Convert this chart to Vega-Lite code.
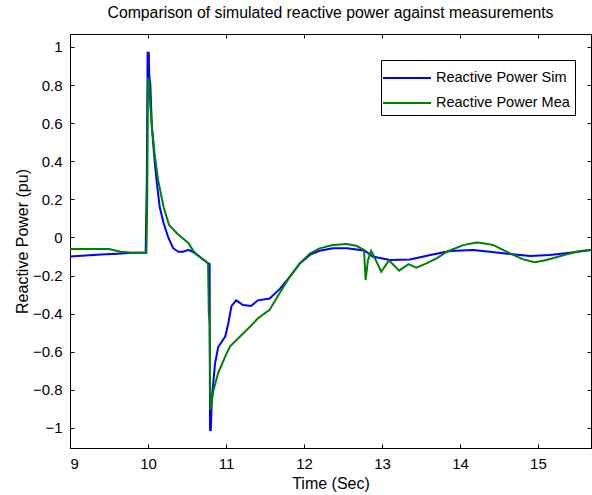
{
  "$schema": "https://vega.github.io/schema/vega-lite/v6.json",
  "width": 521,
  "height": 414,
  "autosize": "none",
  "padding": {"left": 70, "top": 34, "right": 1, "bottom": 47},
  "background": "white",
  "title": {"text": "Comparison of simulated reactive power against measurements", "font": "Liberation Sans", "fontSize": 15.8, "fontWeight": "normal", "color": "#000", "anchor": "middle", "offset": 12},
  "config": {
    "view": {"stroke": "#000", "strokeWidth": 1},
    "axis": {"labelFont": "Liberation Sans", "titleFont": "Liberation Sans", "labelFontSize": 15, "titleFontSize": 16, "titleFontWeight": "normal", "labelColor": "#000", "titleColor": "#000", "domainColor": "#000", "tickColor": "#000", "grid": false},
    "legend": {"labelFont": "Liberation Sans", "labelFontSize": 14.5, "labelColor": "#000"}
  },
  "data": {"values": [
    {"t": 9.0, "v": -0.10, "s": "Reactive Power Sim"},
    {"t": 9.2, "v": -0.095, "s": "Reactive Power Sim"},
    {"t": 9.4, "v": -0.09, "s": "Reactive Power Sim"},
    {"t": 9.6, "v": -0.085, "s": "Reactive Power Sim"},
    {"t": 9.8, "v": -0.08, "s": "Reactive Power Sim"},
    {"t": 9.97, "v": -0.08, "s": "Reactive Power Sim"},
    {"t": 9.985, "v": 0.3, "s": "Reactive Power Sim"},
    {"t": 9.995, "v": 0.97, "s": "Reactive Power Sim"},
    {"t": 10.01, "v": 0.97, "s": "Reactive Power Sim"},
    {"t": 10.015, "v": 0.86, "s": "Reactive Power Sim"},
    {"t": 10.03, "v": 0.8, "s": "Reactive Power Sim"},
    {"t": 10.05, "v": 0.58, "s": "Reactive Power Sim"},
    {"t": 10.07, "v": 0.475, "s": "Reactive Power Sim"},
    {"t": 10.09, "v": 0.38, "s": "Reactive Power Sim"},
    {"t": 10.11, "v": 0.30, "s": "Reactive Power Sim"},
    {"t": 10.15, "v": 0.16, "s": "Reactive Power Sim"},
    {"t": 10.2, "v": 0.076, "s": "Reactive Power Sim"},
    {"t": 10.26, "v": 0.0, "s": "Reactive Power Sim"},
    {"t": 10.32, "v": -0.055, "s": "Reactive Power Sim"},
    {"t": 10.39, "v": -0.075, "s": "Reactive Power Sim"},
    {"t": 10.45, "v": -0.075, "s": "Reactive Power Sim"},
    {"t": 10.52, "v": -0.065, "s": "Reactive Power Sim"},
    {"t": 10.6, "v": -0.08, "s": "Reactive Power Sim"},
    {"t": 10.69, "v": -0.11, "s": "Reactive Power Sim"},
    {"t": 10.77, "v": -0.135, "s": "Reactive Power Sim"},
    {"t": 10.79, "v": -0.14, "s": "Reactive Power Sim"},
    {"t": 10.795, "v": -1.01, "s": "Reactive Power Sim"},
    {"t": 10.805, "v": -1.01, "s": "Reactive Power Sim"},
    {"t": 10.82, "v": -0.84, "s": "Reactive Power Sim"},
    {"t": 10.86, "v": -0.66, "s": "Reactive Power Sim"},
    {"t": 10.9, "v": -0.575, "s": "Reactive Power Sim"},
    {"t": 10.99, "v": -0.52, "s": "Reactive Power Sim"},
    {"t": 11.03, "v": -0.45, "s": "Reactive Power Sim"},
    {"t": 11.07, "v": -0.36, "s": "Reactive Power Sim"},
    {"t": 11.13, "v": -0.33, "s": "Reactive Power Sim"},
    {"t": 11.22, "v": -0.355, "s": "Reactive Power Sim"},
    {"t": 11.32, "v": -0.36, "s": "Reactive Power Sim"},
    {"t": 11.41, "v": -0.33, "s": "Reactive Power Sim"},
    {"t": 11.56, "v": -0.32, "s": "Reactive Power Sim"},
    {"t": 11.69, "v": -0.27, "s": "Reactive Power Sim"},
    {"t": 11.82, "v": -0.205, "s": "Reactive Power Sim"},
    {"t": 11.95, "v": -0.135, "s": "Reactive Power Sim"},
    {"t": 12.08, "v": -0.09, "s": "Reactive Power Sim"},
    {"t": 12.2, "v": -0.07, "s": "Reactive Power Sim"},
    {"t": 12.37, "v": -0.057, "s": "Reactive Power Sim"},
    {"t": 12.55, "v": -0.057, "s": "Reactive Power Sim"},
    {"t": 12.7, "v": -0.065, "s": "Reactive Power Sim"},
    {"t": 12.78, "v": -0.07, "s": "Reactive Power Sim"},
    {"t": 12.88, "v": -0.10, "s": "Reactive Power Sim"},
    {"t": 13.1, "v": -0.118, "s": "Reactive Power Sim"},
    {"t": 13.36, "v": -0.115, "s": "Reactive Power Sim"},
    {"t": 13.62, "v": -0.092, "s": "Reactive Power Sim"},
    {"t": 13.87, "v": -0.071, "s": "Reactive Power Sim"},
    {"t": 14.17, "v": -0.066, "s": "Reactive Power Sim"},
    {"t": 14.38, "v": -0.075, "s": "Reactive Power Sim"},
    {"t": 14.64, "v": -0.087, "s": "Reactive Power Sim"},
    {"t": 14.9, "v": -0.097, "s": "Reactive Power Sim"},
    {"t": 15.15, "v": -0.092, "s": "Reactive Power Sim"},
    {"t": 15.41, "v": -0.08, "s": "Reactive Power Sim"},
    {"t": 15.68, "v": -0.066, "s": "Reactive Power Sim"},
    {"t": 9.0, "v": -0.06, "s": "Reactive Power Mea"},
    {"t": 9.3, "v": -0.06, "s": "Reactive Power Mea"},
    {"t": 9.5, "v": -0.06, "s": "Reactive Power Mea"},
    {"t": 9.65, "v": -0.075, "s": "Reactive Power Mea"},
    {"t": 9.8, "v": -0.08, "s": "Reactive Power Mea"},
    {"t": 9.98, "v": -0.08, "s": "Reactive Power Mea"},
    {"t": 9.99, "v": 0.2, "s": "Reactive Power Mea"},
    {"t": 10.0, "v": 0.83, "s": "Reactive Power Mea"},
    {"t": 10.01, "v": 0.83, "s": "Reactive Power Mea"},
    {"t": 10.03, "v": 0.69, "s": "Reactive Power Mea"},
    {"t": 10.05, "v": 0.58, "s": "Reactive Power Mea"},
    {"t": 10.09, "v": 0.42, "s": "Reactive Power Mea"},
    {"t": 10.13, "v": 0.30, "s": "Reactive Power Mea"},
    {"t": 10.2, "v": 0.16, "s": "Reactive Power Mea"},
    {"t": 10.27, "v": 0.066, "s": "Reactive Power Mea"},
    {"t": 10.37, "v": 0.022, "s": "Reactive Power Mea"},
    {"t": 10.52, "v": -0.03, "s": "Reactive Power Mea"},
    {"t": 10.6, "v": -0.083, "s": "Reactive Power Mea"},
    {"t": 10.69, "v": -0.11, "s": "Reactive Power Mea"},
    {"t": 10.77, "v": -0.135, "s": "Reactive Power Mea"},
    {"t": 10.78, "v": -0.4, "s": "Reactive Power Mea"},
    {"t": 10.79, "v": -0.45, "s": "Reactive Power Mea"},
    {"t": 10.8, "v": -0.905, "s": "Reactive Power Mea"},
    {"t": 10.84, "v": -0.80, "s": "Reactive Power Mea"},
    {"t": 10.9, "v": -0.71, "s": "Reactive Power Mea"},
    {"t": 10.99, "v": -0.625, "s": "Reactive Power Mea"},
    {"t": 11.05, "v": -0.573, "s": "Reactive Power Mea"},
    {"t": 11.18, "v": -0.52, "s": "Reactive Power Mea"},
    {"t": 11.31, "v": -0.468, "s": "Reactive Power Mea"},
    {"t": 11.41, "v": -0.424, "s": "Reactive Power Mea"},
    {"t": 11.56, "v": -0.38, "s": "Reactive Power Mea"},
    {"t": 11.69, "v": -0.29, "s": "Reactive Power Mea"},
    {"t": 11.82, "v": -0.205, "s": "Reactive Power Mea"},
    {"t": 11.95, "v": -0.135, "s": "Reactive Power Mea"},
    {"t": 12.08, "v": -0.083, "s": "Reactive Power Mea"},
    {"t": 12.2, "v": -0.057, "s": "Reactive Power Mea"},
    {"t": 12.37, "v": -0.04, "s": "Reactive Power Mea"},
    {"t": 12.55, "v": -0.034, "s": "Reactive Power Mea"},
    {"t": 12.68, "v": -0.045, "s": "Reactive Power Mea"},
    {"t": 12.77, "v": -0.066, "s": "Reactive Power Mea"},
    {"t": 12.79, "v": -0.223, "s": "Reactive Power Mea"},
    {"t": 12.82, "v": -0.12, "s": "Reactive Power Mea"},
    {"t": 12.86, "v": -0.07, "s": "Reactive Power Mea"},
    {"t": 12.91, "v": -0.11, "s": "Reactive Power Mea"},
    {"t": 12.99, "v": -0.18, "s": "Reactive Power Mea"},
    {"t": 13.09, "v": -0.12, "s": "Reactive Power Mea"},
    {"t": 13.22, "v": -0.174, "s": "Reactive Power Mea"},
    {"t": 13.34, "v": -0.14, "s": "Reactive Power Mea"},
    {"t": 13.44, "v": -0.158, "s": "Reactive Power Mea"},
    {"t": 13.57, "v": -0.136, "s": "Reactive Power Mea"},
    {"t": 13.7, "v": -0.11, "s": "Reactive Power Mea"},
    {"t": 13.83, "v": -0.075, "s": "Reactive Power Mea"},
    {"t": 14.04, "v": -0.04, "s": "Reactive Power Mea"},
    {"t": 14.21, "v": -0.027, "s": "Reactive Power Mea"},
    {"t": 14.3, "v": -0.03, "s": "Reactive Power Mea"},
    {"t": 14.43, "v": -0.04, "s": "Reactive Power Mea"},
    {"t": 14.64, "v": -0.083, "s": "Reactive Power Mea"},
    {"t": 14.81, "v": -0.115, "s": "Reactive Power Mea"},
    {"t": 14.96, "v": -0.13, "s": "Reactive Power Mea"},
    {"t": 15.11, "v": -0.118, "s": "Reactive Power Mea"},
    {"t": 15.37, "v": -0.088, "s": "Reactive Power Mea"},
    {"t": 15.54, "v": -0.071, "s": "Reactive Power Mea"},
    {"t": 15.68, "v": -0.066, "s": "Reactive Power Mea"}
  ]},
  "resolve": {"axis": {"x": "independent", "y": "independent"}},
  "layer": [
    {
      "mark": {"type": "line", "strokeWidth": 2, "clip": true},
      "encoding": {
        "x": {"field": "t", "type": "quantitative", "scale": {"domain": [9, 15.68], "nice": false, "zero": false}, "axis": {"values": [9, 10, 11, 12, 13, 14, 15], "format": "d", "ticks": false, "labelPadding": 8, "title": "Time (Sec)", "titleY": 35, "titleBaseline": "middle"}},
        "y": {"field": "v", "type": "quantitative", "scale": {"domain": [-1.105, 1.068], "nice": false, "zero": false}, "axis": {"values": [-1, -0.8, -0.6, -0.4, -0.2, 0, 0.2, 0.4, 0.6, 0.8, 1], "format": "~g", "ticks": false, "labelPadding": 8, "title": "Reactive Power (pu)", "titleX": -48, "titleY": 207, "titleBaseline": "middle", "titleAlign": "center", "titleAngle": -90}},
        "color": {"field": "s", "type": "nominal", "scale": {"domain": ["Reactive Power Sim", "Reactive Power Mea"], "range": ["#0000ff", "#008000"]}, "legend": {"title": null, "orient": "none", "legendX": 311, "legendY": 26, "symbolType": "M-2,0L2,0", "symbolSize": 576, "symbolStrokeWidth": 2, "symbolOffset": 8, "strokeColor": "#000", "fillColor": "#fff", "padding": 5, "labelOffset": 16, "rowPadding": 5}},
        "order": {"field": "t", "type": "quantitative"}
      }
    },
    {
      "mark": {"type": "point", "opacity": 0},
      "encoding": {
        "x": {"field": "t", "type": "quantitative", "scale": {"domain": [9, 15.68], "nice": false, "zero": false}, "axis": {"orient": "bottom", "offset": -4, "tickSize": 4, "domain": false, "values": [9, 10, 11, 12, 13, 14, 15], "labels": false, "title": null}},
        "y": {"field": "v", "type": "quantitative", "scale": {"domain": [-1.105, 1.068], "nice": false, "zero": false}, "axis": {"orient": "left", "offset": -4, "tickSize": 4, "domain": false, "values": [-1, -0.8, -0.6, -0.4, -0.2, 0, 0.2, 0.4, 0.6, 0.8, 1], "labels": false, "title": null}}
      }
    },
    {
      "mark": {"type": "point", "opacity": 0},
      "encoding": {
        "x": {"field": "t", "type": "quantitative", "scale": {"domain": [9, 15.68], "nice": false, "zero": false}, "axis": {"orient": "top", "offset": -4, "tickSize": 4, "domain": false, "values": [9, 10, 11, 12, 13, 14, 15], "labels": false, "title": null}},
        "y": {"field": "v", "type": "quantitative", "scale": {"domain": [-1.105, 1.068], "nice": false, "zero": false}, "axis": {"orient": "right", "offset": -4, "tickSize": 4, "domain": false, "values": [-1, -0.8, -0.6, -0.4, -0.2, 0, 0.2, 0.4, 0.6, 0.8, 1], "labels": false, "title": null}}
      }
    }
  ]
}
